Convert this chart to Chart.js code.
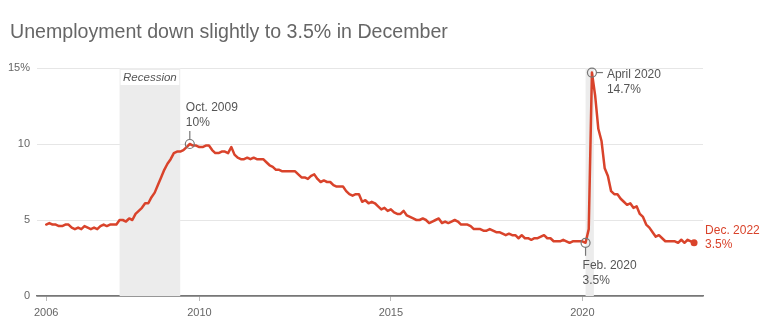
<!DOCTYPE html>
<html>
<head>
<meta charset="utf-8">
<script src="https://cdn.jsdelivr.net/npm/chart.js@4"></script>
<style>
  html, body { margin: 0; padding: 0; background: #fff; }
  #wrap { position: relative; width: 771px; height: 335px; }
  #title {
    position: absolute; left: 10px; top: 20px; margin: 0;
    font: 400 19.6px "Liberation Sans", Arial, sans-serif; color: #666;
  }
  canvas { position: absolute; left: 0; top: 0; }
</style>
</head>
<body>
<div id="wrap">
  <canvas id="chart" width="771" height="335"></canvas>
  <h1 id="title">Unemployment down slightly to 3.5% in December</h1>
</div>
<script>
// ============================
// DATA
// ============================
const startYear = 2006;
// monthly unemployment rate, Jan 2006 .. Dec 2022
const rate = [
  4.7, 4.8, 4.7, 4.7, 4.6, 4.6, 4.7, 4.7, 4.5, 4.4, 4.5, 4.4, // 2006
  4.6, 4.5, 4.4, 4.5, 4.4, 4.6, 4.7, 4.6, 4.7, 4.7, 4.7, 5.0, // 2007
  5.0, 4.9, 5.1, 5.0, 5.4, 5.6, 5.8, 6.1, 6.1, 6.5, 6.8, 7.3, // 2008
  7.8, 8.3, 8.7, 9.0, 9.4, 9.5, 9.5, 9.6, 9.8, 10.0, 9.9, 9.9, // 2009
  9.8, 9.8, 9.9, 9.9, 9.6, 9.4, 9.4, 9.5, 9.5, 9.4, 9.8, 9.3, // 2010
  9.1, 9.0, 9.0, 9.1, 9.0, 9.1, 9.0, 9.0, 9.0, 8.8, 8.6, 8.5, // 2011
  8.3, 8.3, 8.2, 8.2, 8.2, 8.2, 8.2, 8.0, 7.8, 7.8, 7.7, 7.9, // 2012
  8.0, 7.7, 7.5, 7.6, 7.5, 7.5, 7.3, 7.2, 7.2, 7.2, 6.9, 6.7, // 2013
  6.6, 6.7, 6.7, 6.2, 6.3, 6.1, 6.2, 6.1, 5.9, 5.7, 5.8, 5.6, // 2014
  5.7, 5.5, 5.4, 5.4, 5.6, 5.3, 5.2, 5.1, 5.0, 5.0, 5.1, 5.0, // 2015
  4.8, 4.9, 5.0, 5.1, 4.8, 4.9, 4.8, 4.9, 5.0, 4.9, 4.7, 4.7, // 2016
  4.7, 4.6, 4.4, 4.4, 4.4, 4.3, 4.3, 4.4, 4.3, 4.2, 4.2, 4.1, // 2017
  4.0, 4.1, 4.0, 4.0, 3.8, 4.0, 3.8, 3.8, 3.7, 3.8, 3.8, 3.9, // 2018
  4.0, 3.8, 3.8, 3.6, 3.6, 3.6, 3.7, 3.6, 3.5, 3.6, 3.6, 3.6, // 2019
  3.6, 3.5, 4.4, 14.7, 13.2, 11.0, 10.2, 8.4, 7.9, 6.9, 6.7, 6.7, // 2020
  6.4, 6.2, 6.0, 6.1, 5.8, 5.9, 5.4, 5.2, 4.7, 4.5, 4.2, 3.9, // 2021
  4.0, 3.8, 3.6, 3.6, 3.6, 3.6, 3.5, 3.7, 3.5, 3.7, 3.6, 3.5  // 2022
];

const xTicks = [2006, 2010, 2015, 2020];
const yTicks = [0, 5, 10, 15];

// recession periods as [start, end] in decimal years
const recessions = [[2007 + 11/12, 2009.5], [2020 + 1/12, 2020.3]];

// labelled points: month index, text lines, placement
const callouts = [
  { i: 45,  lines: ["Oct. 2009", "10%"],   stem: "up" },
  { i: 169, lines: ["Feb. 2020", "3.5%"],  stem: "down" },
  { i: 171, lines: ["April 2020", "14.7%"], stem: "right" }
];

const points = rate.map((v, i) => ({ x: startYear + i / 12, y: v }));
const LINE_RED = "#d9432b";
const FONT = '"Liberation Sans", Arial, sans-serif';

// ============================
// PLUGINS
// ============================
const shading = {
  id: "shading",
  beforeDatasetsDraw(chart) {
    const { ctx, chartArea, scales: { x, y } } = chart;
    ctx.save();
    ctx.fillStyle = "#ececec";
    recessions.forEach(([a, b]) => {
      const x0 = x.getPixelForValue(a), x1 = x.getPixelForValue(b);
      ctx.fillRect(x0, y.getPixelForValue(15), x1 - x0, chartArea.bottom - y.getPixelForValue(15));
    });
    // label box on the first recession
    const [a, b] = recessions[0];
    const x0 = x.getPixelForValue(a), x1 = x.getPixelForValue(b);
    const top = y.getPixelForValue(15);
    ctx.fillStyle = "#fff";
    ctx.fillRect(x0 + 1, top + 2, x1 - x0 - 2, 15);
    ctx.fillStyle = "#555";
    ctx.font = "italic 11.5px " + FONT;
    ctx.textAlign = "center";
    ctx.textBaseline = "middle";
    ctx.fillText("Recession", (x0 + x1) / 2, top + 9.5);
    ctx.restore();
  }
};

const labels = {
  id: "labels",
  afterDatasetsDraw(chart) {
    const { ctx, scales: { x, y } } = chart;
    ctx.save();
    ctx.font = "12px " + FONT;
    ctx.textBaseline = "middle";
    ctx.textAlign = "left";
    callouts.forEach(c => {
      const p = points[c.i];
      const px = x.getPixelForValue(p.x), py = y.getPixelForValue(p.y);
      ctx.strokeStyle = "#777";
      ctx.lineWidth = 1.2;
      ctx.beginPath();
      ctx.arc(px, py, 4.5, 0, Math.PI * 2);
      ctx.stroke();
      ctx.beginPath();
      ctx.fillStyle = "#555";
      if (c.stem === "up") {
        ctx.moveTo(px, py - 4.5); ctx.lineTo(px, py - 13); ctx.stroke();
        ctx.fillText(c.lines[0], px - 4, py - 36);
        ctx.fillText(c.lines[1], px - 4, py - 21);
      } else if (c.stem === "down") {
        ctx.moveTo(px, py + 4.5); ctx.lineTo(px, py + 13); ctx.stroke();
        ctx.fillText(c.lines[0], px - 3, py + 23);
        ctx.fillText(c.lines[1], px - 3, py + 38);
      } else {
        ctx.moveTo(px + 4.5, py); ctx.lineTo(px + 11, py); ctx.stroke();
        ctx.fillText(c.lines[0], px + 15, py + 2);
        ctx.fillText(c.lines[1], px + 15, py + 17);
      }
    });
    // latest value
    const last = points[points.length - 1];
    const lx = x.getPixelForValue(last.x), ly = y.getPixelForValue(last.y);
    ctx.fillStyle = LINE_RED;
    ctx.beginPath();
    ctx.arc(lx, ly, 3.5, 0, Math.PI * 2);
    ctx.fill();
    ctx.fillText("Dec. 2022", lx + 11, ly - 12);
    ctx.fillText(last.y + "%", lx + 11, ly + 2);
    ctx.restore();
  }
};

// ============================
// CHART
// ============================
new Chart(document.getElementById("chart"), {
  type: "line",
  data: {
    datasets: [{
      data: points,
      borderColor: LINE_RED,
      borderWidth: 2.5,
      pointRadius: 0,
      tension: 0,
      borderJoinStyle: "round",
      borderCapStyle: "round"
    }]
  },
  options: {
    responsive: false,
    animation: false,
    events: [],
    layout: { padding: { top: 68, right: 68, left: 0, bottom: 0 } },
    plugins: { legend: { display: false }, tooltip: { enabled: false } },
    scales: {
      x: {
        type: "linear",
        min: 2005.76,
        max: 2023.15,
        afterBuildTicks: s => { s.ticks = xTicks.map(v => ({ value: v })); },
        afterFit: s => { s.height = 39; },
        border: { display: true, color: "#777", width: 1.5 },
        grid: { drawOnChartArea: false, drawTicks: true, tickLength: 5, color: "#bbb" },
        ticks: { padding: 5, color: "#666", font: { family: FONT, size: 11 }, callback: v => String(v), maxRotation: 0 }
      },
      y: {
        min: 0,
        max: 15,
        afterBuildTicks: s => { s.ticks = yTicks.map(v => ({ value: v })); },
        afterFit: s => { s.width = 37; },
        border: { display: false },
        grid: { drawTicks: false, color: c => c.tick.value === 0 ? "#777" : "#e6e6e6", lineWidth: c => c.tick.value === 0 ? 1.5 : 1 },
        ticks: { padding: 7, color: "#666", font: { family: FONT, size: 11 }, callback: v => v === 15 ? "15%" : String(v) }
      }
    }
  },
  plugins: [shading, labels]
});
</script>
</body>
</html>
